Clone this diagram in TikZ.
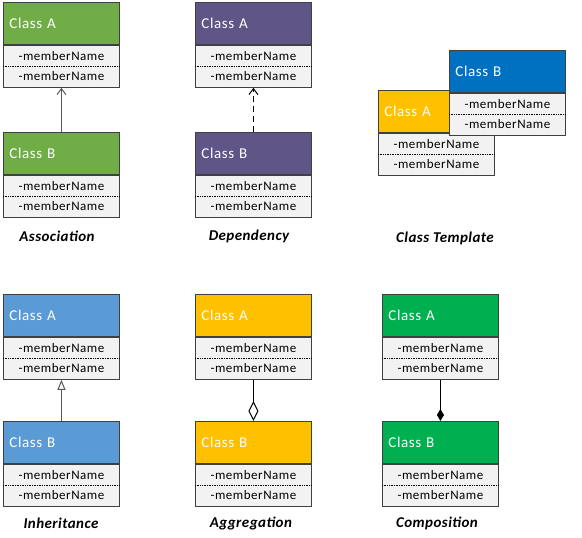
\documentclass[tikz,border=0pt]{standalone}
\usepackage{fontspec}
\setmainfont{Carlito}
\newfontfamily\memfont[LetterSpace=4]{Carlito}
\newfontfamily\lblfont[LetterSpace=3]{Carlito}
\usetikzlibrary{arrows.meta}
\definecolor{cgreen}{HTML}{70AD47}
\definecolor{cpurple}{HTML}{5F5586}
\definecolor{cblue}{HTML}{5B9BD5}
\definecolor{cyellow}{HTML}{FFC000}
\definecolor{cdblue}{HTML}{0070C0}
\definecolor{cbgreen}{HTML}{00B050}
\definecolor{ccomp}{HTML}{F2F2F2}
\definecolor{cborder}{HTML}{404040}
\definecolor{cline}{HTML}{595959}
\tikzset{
  hdr/.style={draw=cborder, line width=0.9pt, minimum width=116pt, minimum height=42pt,
    text width=104pt, align=left, inner xsep=6pt, inner ysep=0pt, text=white,
    font=\memfont\fontsize{15}{17}\selectfont, anchor=north west},
  comp/.style={draw=cborder, line width=0.9pt, fill=ccomp, minimum width=116pt, minimum height=42pt,
    align=center, inner sep=0pt, font=\memfont\fontsize{13}{20}\selectfont, anchor=north},
  sep/.style={densely dotted, line width=0.7pt, black},
  lbl/.style={font=\lblfont\fontsize{15}{17}\selectfont\bfseries\itshape},
  conn/.style={line width=1pt}
}
\newcommand{\umlclass}[5]{%
  \node[hdr, fill=#4] (#1h) at (#2,#3) {#5};
  \node[comp] (#1c) at (#1h.south) {-memberName\\-memberName};
  \draw[sep] (#1c.west) -- (#1c.east);
}
\begin{document}
\begin{tikzpicture}[x=1pt,y=-1pt]
\useasboundingbox (0,0) rectangle (582,538);
% Association
\umlclass{asA}{3}{2}{cgreen}{Class A}
\umlclass{asB}{3}{132}{cgreen}{Class B}
\draw[conn, cline, -{Straight Barb[length=6pt,width=9pt]}] (asBh.north) -- (asAc.south);
\node[lbl] (lAs) at (57,236) {Association};
% Dependency
\umlclass{deA}{195}{2}{cpurple}{Class A}
\umlclass{deB}{195}{132}{cpurple}{Class B}
\draw[conn, black, dash pattern=on 6pt off 4pt, -{Straight Barb[length=6pt,width=9pt]}] (deBh.north) -- (deAc.south);
\node[lbl] (lDe) at (249,236) {Dependency};
% Class Template
\umlclass{ctA}{378}{90}{cyellow}{Class A}
\umlclass{ctB}{449}{50}{cdblue}{Class B}
\node[lbl] (lCt) at (445,238) {Class Template};
% Inheritance
\umlclass{inA}{3}{294}{cblue}{Class A}
\umlclass{inB}{3}{421}{cblue}{Class B}
\draw[conn, cline, -{Triangle[open,length=10pt,width=8pt]}] (inBh.north) -- (inAc.south);
\node[lbl] (lIn) at (61,523) {Inheritance};
% Aggregation
\umlclass{agA}{195}{294}{cyellow}{Class A}
\umlclass{agB}{195}{421}{cyellow}{Class B}
\draw[conn, black, {Diamond[open,length=20pt,width=10pt]}-] (agBh.north) -- (agAc.south);
\node[lbl] (lAg) at (251,523) {Aggregation};
% Composition
\umlclass{coA}{382}{294}{cbgreen}{Class A}
\umlclass{coB}{382}{421}{cbgreen}{Class B}
\draw[conn, black, {Diamond[length=12pt,width=7pt]}-] (coBh.north) -- (coAc.south);
\node[lbl] (lCo) at (437,523) {Composition};
\end{tikzpicture}
\end{document}
